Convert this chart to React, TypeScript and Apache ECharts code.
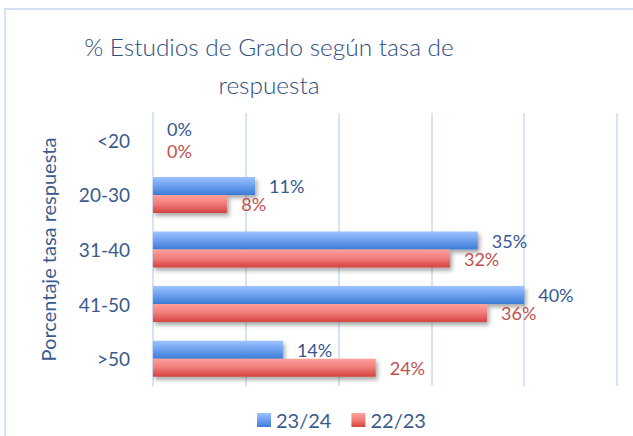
import React, { useEffect, useRef } from "react";
import * as echarts from "echarts";

const categories = ["<20", "20-30", "31-40", "41-50", ">50"];
const series2324 = [0, 11, 35, 40, 14];
const series2223 = [0, 8, 32, 36, 24];
const seriesNames = ["23/24", "22/23"];
const xTicks = [0, 10, 20, 30, 40, 50];

const FONT = "Lato, 'Open Sans', sans-serif";
const TEXT = "#3A5A8C";
const GRID = "#D6E4F6";

export default function App() {
  const ref = useRef<HTMLDivElement>(null);
  useEffect(() => {
    if (!ref.current) return;
    const chart = echarts.init(ref.current, undefined, { renderer: "svg" });
    const blueGrad = new echarts.graphic.LinearGradient(0, 0, 0, 1, [
      { offset: 0, color: "#9DC3FF" },
      { offset: 0.5, color: "#6C9FEE" },
      { offset: 1, color: "#3D7CD5" },
    ]);
    const redGrad = new echarts.graphic.LinearGradient(0, 0, 0, 1, [
      { offset: 0, color: "#FFA09D" },
      { offset: 0.5, color: "#F07C79" },
      { offset: 1, color: "#D3423F" },
    ]);
    const shadow = {
      shadowColor: "rgba(0,0,0,0.35)",
      shadowBlur: 4,
      shadowOffsetX: 2,
      shadowOffsetY: 3,
    };
    const labelStyle = {
      show: true,
      position: "right",
      distance: 14,
      formatter: "{c}%",
      fontFamily: FONT,
      fontSize: 18,
      lineHeight: 16,
    };
    // zero-length bars: spread their two labels a little so they stay apart
    const withOffset = (vals: number[], dy: number) =>
      vals.map((v) => (v === 0 ? { value: v, label: { offset: [0, dy] } } : v));
    chart.setOption({
      animation: false,
      textStyle: { fontFamily: FONT },
      graphic: [
        {
          type: "rect",
          shape: { x: 5, y: 9, width: 700, height: 500 },
          style: { fill: "none", stroke: "#D3E2F4", lineWidth: 2 },
          silent: true,
        },
      ],
      title: {
        text: "% Estudios de Grado según tasa de\nrespuesta",
        left: 264,
        top: 22,
        textAlign: "center",
        textStyle: {
          fontFamily: FONT,
          fontSize: 24.4,
          fontWeight: 300,
          lineHeight: 38,
          color: "#2E4C7E",
        },
      },
      legend: {
        data: seriesNames,
        left: 252,
        top: 405,
        icon: "rect",
        itemWidth: 14,
        itemHeight: 14,
        itemGap: 20,
        textStyle: { fontFamily: FONT, fontSize: 20, color: TEXT },
      },
      grid: { left: 153, right: 16, top: 113, bottom: 50, containLabel: false },
      xAxis: {
        type: "value",
        min: xTicks[0],
        max: xTicks[xTicks.length - 1],
        interval: 10,
        axisLabel: { show: false },
        axisLine: { show: false },
        axisTick: { show: false },
        splitLine: { show: true, lineStyle: { color: GRID, width: 2 } },
      },
      yAxis: {
        type: "category",
        data: categories,
        inverse: true,
        name: "Porcentaje tasa respuesta",
        nameLocation: "middle",
        nameRotate: 90,
        nameGap: 95,
        nameTextStyle: { fontFamily: FONT, fontSize: 20, color: TEXT },
        axisLine: { show: true, lineStyle: { color: GRID, width: 2 } },
        axisTick: { show: false },
        axisLabel: { fontFamily: FONT, fontSize: 19, color: TEXT, margin: 23 },
      },
      series: [
        {
          name: seriesNames[0],
          type: "bar",
          data: withOffset(series2324, -2),
          barWidth: 18,
          barGap: "0%",
          itemStyle: { color: blueGrad, ...shadow },
          label: { ...labelStyle, color: "#35578F" },
        },
        {
          name: seriesNames[1],
          type: "bar",
          data: withOffset(series2223, 2),
          barWidth: 18,
          barGap: "0%",
          itemStyle: { color: redGrad, ...shadow },
          label: { ...labelStyle, color: "#C0504D" },
        },
      ],
    });
    return () => chart.dispose();
  }, []);
  return (
    <div
      ref={ref}
      style={{ position: "fixed", left: 0, top: 0, width: 633, height: 436, background: "#fff" }}
    />
  );
}
